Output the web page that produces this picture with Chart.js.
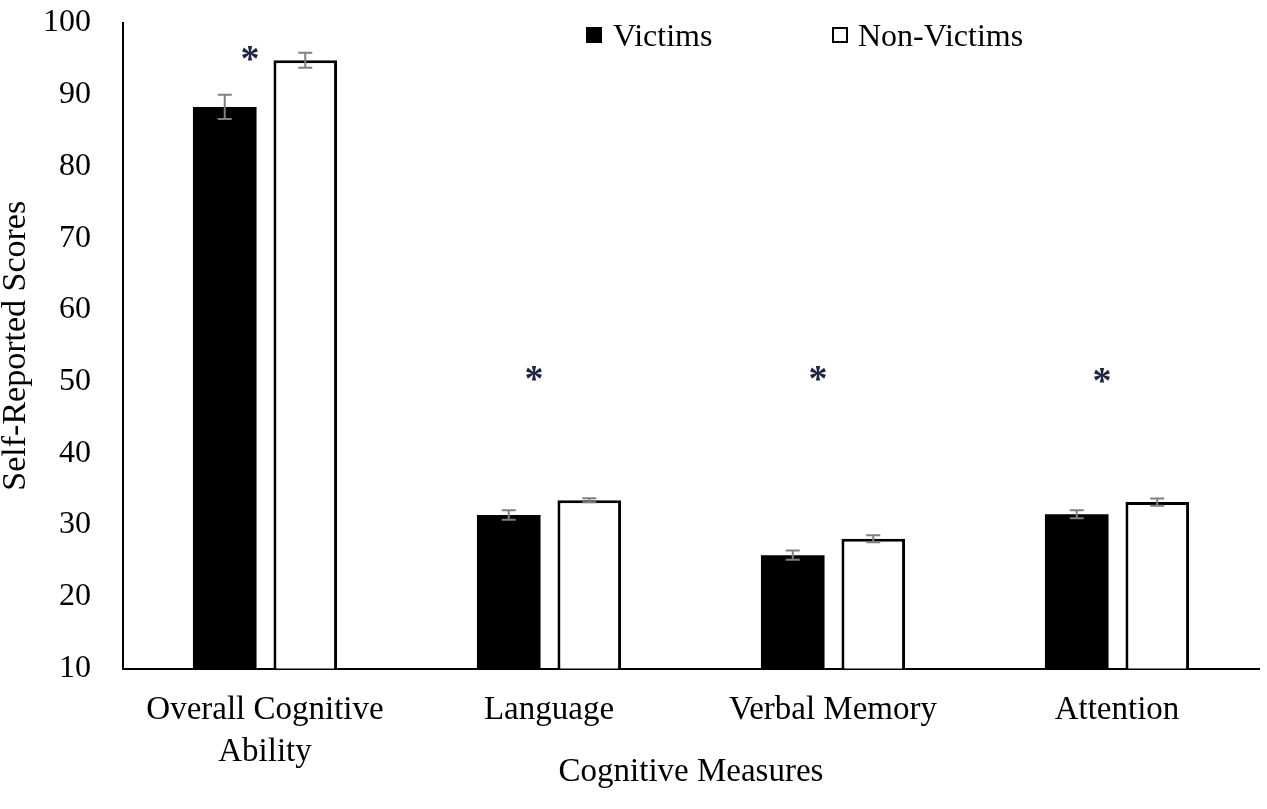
<!DOCTYPE html>
<html>
<head>
<meta charset="utf-8">
<script src="https://cdn.jsdelivr.net/npm/chart.js@4.4.1/dist/chart.umd.min.js"></script>
<style>
body{margin:0;background:#fff;}
#wrap{position:relative;width:1267px;height:809px;}
.leg{position:absolute;font-family:"Liberation Serif","Times New Roman",serif;font-size:32px;line-height:32px;color:#000;white-space:nowrap;}
.box{position:absolute;width:16px;height:16px;box-sizing:border-box;}
</style>
</head>
<body>
<div id="wrap">
<canvas id="chart" width="1267" height="809"></canvas>
<div class="box" style="left:586px;top:27px;background:#000;"></div>
<div class="leg" style="left:613px;top:19px;">Victims</div>
<div class="box" style="left:832px;top:27px;background:#fff;border:2px solid #000;"></div>
<div class="leg" style="left:858px;top:19px;">Non-Victims</div>
</div>
<script>
const categories = [["Overall Cognitive","Ability"], "Language", "Verbal Memory", "Attention"];
const victims = [88.3, 31.4, 25.8, 31.5];
const victimsErr = [1.7, 0.65, 0.65, 0.55];
const nonVictims = [94.8, 33.45, 28.1, 33.2];
const nonVictimsErr = [1.05, 0.28, 0.49, 0.5];
const starValues = [95.8, 51.2, 51.2, 50.9];
const yTicks = {min:10, max:100, step:10};

const serif = '"Liberation Serif", "Times New Roman", serif';

// error bars + significance stars
const extras = {
    id:'extras',
    afterDatasetsDraw(chart){
        const ctx = chart.ctx;
        const y = chart.scales.y;
        const x = chart.scales.x;
        const errs = [victimsErr, nonVictimsErr];
        ctx.save();
        ctx.strokeStyle = '#808080';
        ctx.lineWidth = 2;
        chart.data.datasets.forEach(function(ds, di){
            const meta = chart.getDatasetMeta(di);
            meta.data.forEach(function(bar, i){
                const v = ds.data[i];
                const top = y.getPixelForValue(v + errs[di][i]);
                const bot = y.getPixelForValue(v - errs[di][i]);
                ctx.beginPath();
                ctx.moveTo(bar.x, top); ctx.lineTo(bar.x, bot);
                ctx.moveTo(bar.x - 7, top); ctx.lineTo(bar.x + 7, top);
                ctx.moveTo(bar.x - 7, bot); ctx.lineTo(bar.x + 7, bot);
                ctx.stroke();
            });
        });
        ctx.fillStyle = '#1c2541';
        ctx.font = 'bold 38px ' + serif;
        ctx.textAlign = 'center';
        ctx.textBaseline = 'middle';
        starValues.forEach(function(v, i){
            ctx.fillText('*', x.getPixelForValue(i) - 15, y.getPixelForValue(v) + 8);
        });
        ctx.restore();
    }
};

new Chart(document.getElementById('chart'), {
    type:'bar',
    data:{
        labels:categories,
        datasets:[
            {label:'Victims', data:victims, backgroundColor:'#000', borderColor:'#000', borderWidth:0,
             categoryPercentage:0.567, barPercentage:0.79},
            {label:'Non-Victims', data:nonVictims, backgroundColor:'#fff', borderColor:'#000', borderWidth:3,
             categoryPercentage:0.567, barPercentage:0.79}
        ]
    },
    options:{
        responsive:false,
        animation:false,
        layout:{padding:{left:0, right:8, top:0, bottom:0}},
        plugins:{legend:{display:false}, tooltip:{enabled:false}},
        scales:{
            x:{
                grid:{display:false, drawTicks:false},
                border:{display:true, color:'#000', width:2},
                ticks:{color:'#000', padding:21, maxRotation:0, autoSkip:false,
                       font:{family:serif, size:33, lineHeight:1.27}},
                title:{display:true, text:'Cognitive Measures', color:'#000',
                       font:{family:serif, size:33, lineHeight:1.2}, padding:{top:0, bottom:17}},
                afterFit(s){ s.height = 140.5; }
            },
            y:{
                min:yTicks.min, max:yTicks.max,
                grid:{display:false, drawTicks:false},
                border:{display:true, color:'#000', width:2},
                ticks:{stepSize:yTicks.step, color:'#000', padding:32,
                       font:{family:serif, size:32}},
                title:{display:true, text:'Self-Reported Scores', color:'#000',
                       font:{family:serif, size:34, lineHeight:1.0}, padding:{top:-1, bottom:0}},
                afterFit(s){ s.width = 123; s.paddingTop = 23; }
            }
        }
    },
    plugins:[extras]
});
</script>
</body>
</html>
